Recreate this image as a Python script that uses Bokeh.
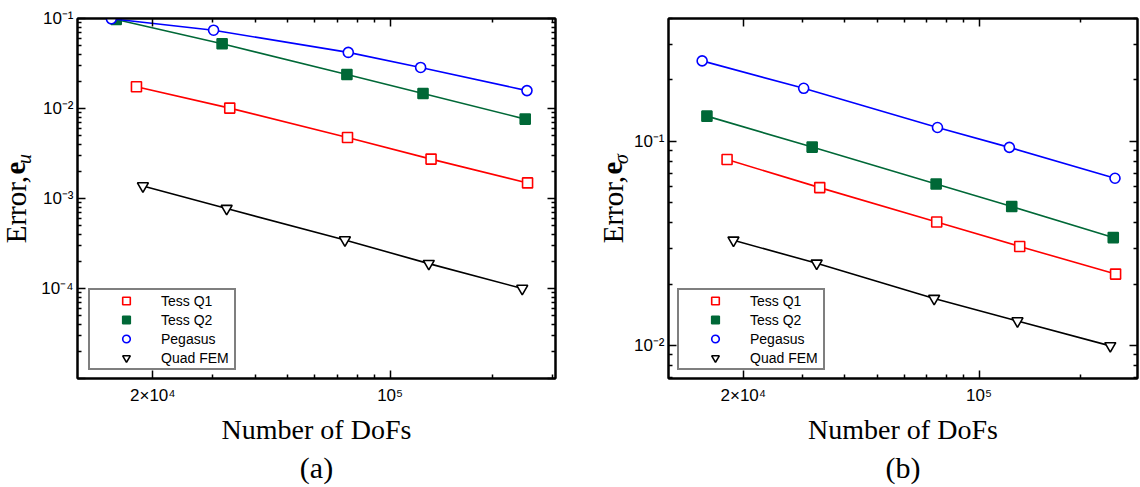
from math import pi
from bokeh.plotting import figure
from bokeh.models import LogAxis, FixedTicker, Legend, LegendItem, Title
from bokeh.core.properties import value
from bokeh.layouts import row
from bokeh.embed import file_html
from bokeh.resources import INLINE

# ---------------- data ----------------
series_names = ["Tess Q1", "Tess Q2", "Pegasus", "Quad FEM"]

dofs_q1 = [1.79e4, 3.37e4, 7.49e4, 1.32e5, 2.54e5]
dofs_q2 = [1.56e4, 3.20e4, 7.46e4, 1.25e5, 2.50e5]
dofs_peg = [1.51e4, 3.02e4, 7.53e4, 1.23e5, 2.53e5]
dofs_quad = [1.87e4, 3.30e4, 7.36e4, 1.30e5, 2.45e5]

err_u_q1 = [0.01746, 0.0101, 0.00477, 0.00274, 0.00149]
err_u_q2 = [0.0975, 0.0524, 0.0239, 0.0147, 0.00762]
err_u_peg = [0.0993, 0.0741, 0.042, 0.0286, 0.0158]
err_u_quad = [0.001377, 0.000773, 0.000346, 0.000189, 0.0001]

err_s_q1 = [0.0815, 0.0594, 0.0403, 0.0306, 0.0224]
err_s_q2 = [0.133, 0.0938, 0.0619, 0.048, 0.0338]
err_s_peg = [0.248, 0.182, 0.117, 0.0935, 0.066]
err_s_quad = [0.0328, 0.0253, 0.0170, 0.0132, 0.00997]

x_major = [2e4, 1e5]
x_major_labels = ["2×10⁴", "10⁵"]
x_minor = [3e4, 4e4, 5e4, 6e4, 7e4, 8e4, 9e4, 2e5, 3e5]

yu_major = [1e-5, 1e-4, 1e-3, 1e-2, 1e-1]
yu_major_labels = [" ", "10⁻⁴", "10⁻³", "10⁻²", "10⁻¹"]
ys_major = [1e-2, 1e-1]
ys_major_labels = ["10⁻²", "10⁻¹"]

# ---------------- styling ----------------
STYLES = {
    "Tess Q1": dict(marker="square", color="#ff0000", fill="white"),
    "Tess Q2": dict(marker="square", color="#006837", fill="#006837"),
    "Pegasus": dict(marker="circle", color="#0000ff", fill="white"),
    "Quad FEM": dict(marker="inverted_triangle", color="#000000", fill="white"),
}
SERIF = "Liberation Serif"
SANS = "Liberation Sans"
H = 485
FRAME_TOP = 18
FRAME_BOTTOM = 381


def minor_ticks(lo_exp, hi_exp, lo, hi):
    out = []
    for e in range(lo_exp, hi_exp + 1):
        for k in range(2, 10):
            v = k * 10.0 ** e
            if lo <= v <= hi:
                out.append(v)
    return out


def style_axis(ax, ticker, labels_map, show_labels):
    ax.ticker = ticker
    if labels_map:
        ax.major_label_overrides = labels_map
    ax.axis_line_width = 2
    ax.axis_line_color = "black"
    ax.major_tick_in = 8
    ax.major_tick_out = 0
    ax.minor_tick_in = 4
    ax.minor_tick_out = 0
    ax.major_tick_line_width = 1.5
    ax.minor_tick_line_width = 1.5
    ax.major_tick_line_color = "black"
    ax.minor_tick_line_color = "black"
    if show_labels:
        ax.major_label_text_font = SANS
        ax.major_label_text_font_size = "17px"
        ax.major_label_text_color = "black"
    else:
        ax.major_label_text_font_size = "1px"
        ax.major_label_text_alpha = 0
        ax.major_label_standoff = 0


def make_ylabel(width, xm, sub):
    f = figure(width=width, height=H, x_range=(0, width), y_range=(0, H),
               output_backend="svg", toolbar_location=None,
               min_border=0, min_border_left=0, min_border_right=0,
               min_border_top=0, min_border_bottom=0)
    f.axis.visible = False
    f.grid.visible = False
    f.outline_line_color = None
    yc = H - (FRAME_TOP + FRAME_BOTTOM) / 2
    fs = 29
    fs_sub = 20
    l_err = 2.36 * fs
    l_gap = 0.25 * fs + 8
    l_e = 0.444 * fs
    l_sub = 0.5 * fs_sub
    total = l_err + l_gap + l_e + l_sub
    y0 = yc - total / 2 - 39
    common = dict(angle=pi / 2, text_align="center", text_baseline="middle",
                  text_color="black", text_font=value(SERIF))
    f.text(x=[xm], y=[y0 + l_err / 2], text=["Error,"],
           text_font_size=f"{fs}px", **common)
    f.text(x=[xm], y=[y0 + l_err + l_gap + l_e / 2], text=["e"],
           text_font_size=f"{fs}px", text_font_style="bold", **common)
    f.text(x=[xm + 8], y=[y0 + l_err + l_gap + l_e + l_sub / 2 + 1], text=[sub],
           text_font_size=f"{fs_sub}px", text_font_style="italic", **common)
    return f


def make_panel(xs_list, ys_list, y_range, y_major, y_major_labels, caption,
               width, bl, br, x_end, legend_x):
    p = figure(width=width, height=H, x_axis_type="log", y_axis_type="log",
               x_range=(1.2e4, x_end), y_range=y_range,
               output_backend="svg", toolbar_location=None,
               min_border_left=bl, min_border_right=br,
               min_border_top=FRAME_TOP, min_border_bottom=H - FRAME_BOTTOM)
    p.grid.visible = False
    p.outline_line_color = "black"
    p.outline_line_width = 2
    p.background_fill_color = "white"
    p.border_fill_color = "white"

    xt = FixedTicker(ticks=x_major, minor_ticks=x_minor)
    xlab = {v: s for v, s in zip(x_major, x_major_labels)}
    ymin = minor_ticks(-6, 0, y_range[0], y_range[1])
    yt = FixedTicker(ticks=y_major, minor_ticks=ymin)
    ylab = {v: s for v, s in zip(y_major, y_major_labels)}

    style_axis(p.xaxis[0], xt, xlab, True)
    p.xaxis[0].major_label_standoff = 7
    p.xaxis[0].axis_label = "Number of DoFs"
    p.xaxis[0].axis_label_text_font = SERIF
    p.xaxis[0].axis_label_text_font_size = "28px"
    p.xaxis[0].axis_label_text_font_style = "normal"
    p.xaxis[0].axis_label_text_color = "black"
    p.xaxis[0].axis_label_standoff = 6
    style_axis(p.yaxis[0], yt, ylab, True)
    p.yaxis[0].major_label_standoff = 4

    top = LogAxis()
    style_axis(top, FixedTicker(ticks=x_major, minor_ticks=x_minor), None, False)
    p.add_layout(top, "above")
    right = LogAxis()
    style_axis(right, FixedTicker(ticks=y_major, minor_ticks=ymin), None, False)
    p.add_layout(right, "right")

    items = []
    for name, xs, ys in zip(series_names, xs_list, ys_list):
        st = STYLES[name]
        p.line(xs, ys, line_color=st["color"], line_width=1.6)
        r = p.scatter(xs, ys, marker=st["marker"], size=10 if st["marker"] != "inverted_triangle" else 11,
                      line_color=st["color"], fill_color=st["fill"], line_width=1.6)
        items.append(LegendItem(label=name, renderers=[r]))

    leg = Legend(items=items, location=(legend_x, 8), margin=0, padding=1,
                 glyph_width=70, glyph_height=19, spacing=0,
                 label_standoff=0, label_height=19, label_width=72,
                 label_text_font=SANS, label_text_font_size="14px",
                 label_text_color="black", label_text_baseline="middle",
                 border_line_color="black", border_line_width=2,
                 background_fill_color="white", background_fill_alpha=1.0)
    p.add_layout(leg)

    t = Title(text=caption, align="center", text_font=SERIF, text_font_size="30px",
              text_font_style="normal", text_color="black", standoff=3)
    p.add_layout(t, "below")
    return p


lab1 = make_ylabel(35, 15, "u")
p1 = make_panel([dofs_q1, dofs_q2, dofs_peg, dofs_quad],
                [err_u_q1, err_u_q2, err_u_peg, err_u_quad],
                (1e-5, 1e-1), yu_major, yu_major_labels, "(a)",
                width=594 - 35, bl=42, br=39, x_end=3.07e5, legend_x=11)
lab2 = make_ylabel(36, 18, "σ")
p2 = make_panel([dofs_q1, dofs_q2, dofs_peg, dofs_quad],
                [err_s_q1, err_s_q2, err_s_peg, err_s_quad],
                (0.0069, 0.4), ys_major, ys_major_labels, "(b)",
                width=1140 - 630, bl=37, br=3, x_end=2.95e5, legend_x=9)

layout = row(lab1, p1, lab2, p2)
open("out.html", "w").write(file_html(layout, INLINE))
